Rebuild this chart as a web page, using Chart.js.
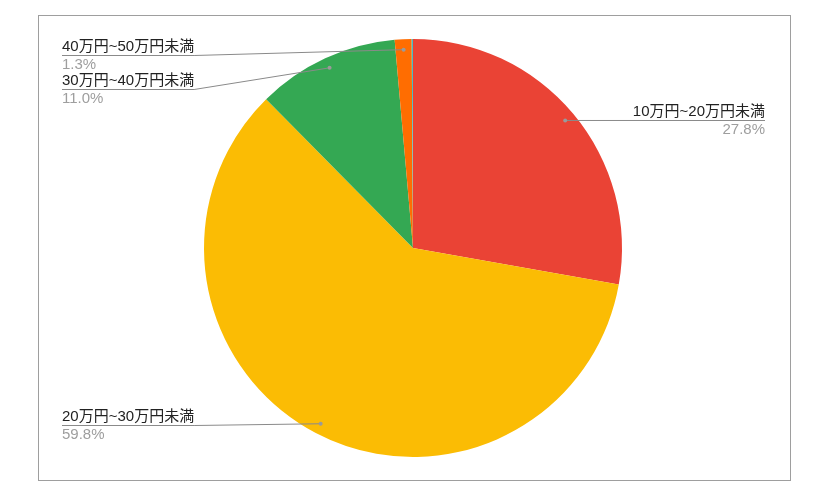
<!DOCTYPE html>
<html>
<head>
<meta charset="utf-8">
<script src="https://cdn.jsdelivr.net/npm/chart.js@4.4.1/dist/chart.umd.min.js"></script>
<style>
  html, body { margin: 0; padding: 0; background: #fff; }
  #frame { position: absolute; left: 38px; top: 15px; width: 751px; height: 464px; border: 1px solid #9e9e9e; }
  #c { position: absolute; left: 0; top: 0; }
</style>
</head>
<body>
<div id="frame"></div>
<canvas id="c" width="821" height="504"></canvas>
<script>
const categories = ['10万円~20万円未満', '20万円~30万円未満', '30万円~40万円未満', '40万円~50万円未満', '50万円以上'];
const percents = [27.8, 59.8, 11.0, 1.3, 0.1];
const colors = ['#EA4335', '#FBBC04', '#34A853', '#FF6D01', '#46BDC6'];

// label layout (text anchor + side), null = no label
const labelLayout = [
  { side: 'right', x: 765, y: 116 },
  { side: 'left', x: 62, y: 421 },
  { side: 'left', x: 62, y: 85 },
  { side: 'left', x: 62, y: 51 },
  null
];

const FONT = '15px "Liberation Sans", "Noto Sans CJK JP", Arial, sans-serif';

const labelPlugin = {
  id: 'leaderLabels',
  afterDatasetsDraw(chart) {
    const ctx = chart.ctx;
    const meta = chart.getDatasetMeta(0);
    ctx.save();
    ctx.font = FONT;
    meta.data.forEach((arc, i) => {
      const lay = labelLayout[i];
      if (!lay) return;
      const p = arc.getProps(['x', 'y', 'startAngle', 'endAngle', 'outerRadius'], true);
      const mid = (p.startAngle + p.endAngle) / 2;
      const dx = p.x + Math.cos(mid) * p.outerRadius * 0.95;
      const dy = p.y + Math.sin(mid) * p.outerRadius * 0.95;
      const text = categories[i];
      const w = ctx.measureText(text).width;
      const uy = lay.y + 4.5;
      let x0, x1;
      if (lay.side === 'left') { x0 = lay.x; x1 = lay.x + w; }
      else { x0 = lay.x - w; x1 = lay.x; }
      // leader line
      ctx.strokeStyle = '#8a8a8a';
      ctx.lineWidth = 1;
      ctx.beginPath();
      if (lay.side === 'left') {
        ctx.moveTo(x0, uy);
        if (dx > x1) {
          if (Math.abs(dy - uy) < 1.5) { ctx.lineTo(dx, dy); }
          else { ctx.lineTo(x1, uy); ctx.lineTo(dx, dy); }
        } else ctx.lineTo(x1, uy);
      } else {
        ctx.moveTo(x1, uy);
        if (dx < x0) {
          if (Math.abs(dy - uy) < 1.5) { ctx.lineTo(dx, dy); }
          else { ctx.lineTo(x0, uy); ctx.lineTo(dx, dy); }
        } else ctx.lineTo(x0, uy);
      }
      ctx.stroke();
      // dot
      ctx.fillStyle = '#9a9a9a';
      ctx.beginPath();
      ctx.arc(dx, dy, 2, 0, Math.PI * 2);
      ctx.fill();
      // texts
      ctx.textBaseline = 'alphabetic';
      ctx.textAlign = lay.side === 'left' ? 'left' : 'right';
      ctx.fillStyle = '#222222';
      ctx.fillText(text, lay.x, lay.y);
      ctx.fillStyle = '#9e9e9e';
      ctx.fillText(percents[i].toFixed(1) + '%', lay.x, lay.y + 18);
    });
    ctx.restore();
  }
};

new Chart(document.getElementById('c'), {
  type: 'pie',
  data: {
    labels: categories,
    datasets: [{
      data: percents,
      backgroundColor: colors,
      borderWidth: 0,
      hoverOffset: 0
    }]
  },
  options: {
    responsive: false,
    animation: false,
    layout: { padding: { left: 204, right: 199, top: 39, bottom: 47 } },
    plugins: {
      legend: { display: false },
      tooltip: { enabled: false }
    }
  },
  plugins: [labelPlugin]
});
</script>
</body>
</html>
